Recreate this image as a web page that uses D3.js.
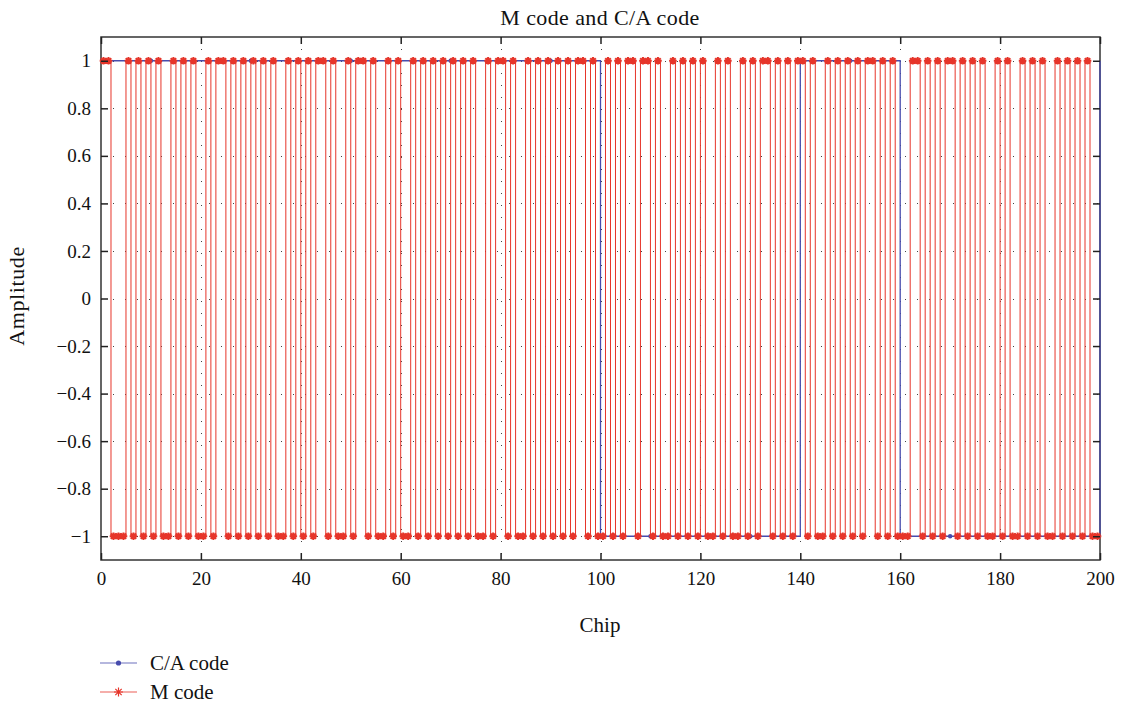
<!DOCTYPE html>
<html>
<head>
<meta charset="utf-8">
<script src="https://cdn.jsdelivr.net/npm/d3@7/dist/d3.min.js"></script>
<style>
  body { margin: 0; background: #fff; }
  text { font-family: "Liberation Serif", "DejaVu Serif", serif; fill: #111; }
</style>
</head>
<body>
<svg id="chart" width="1121" height="707"></svg>
<script>
// tick labels
var xTicks = [0, 20, 40, 60, 80, 100, 120, 140, 160, 180, 200];
var yTicks = [-1, -0.8, -0.6, -0.4, -0.2, 0, 0.2, 0.4, 0.6, 0.8, 1];

// C/A code: one value per 20 chips (last value is the level reached at 200)
var caChipLen = 20;
var caChips = [1, 1, 1, 1, 1, -1, -1, 1, -1, -1, 1];

// M code: starts at +1, flips sign at these chip indices
var mStart = 1;
var mFlips = [2, 5, 6, 7, 8, 9, 10, 11, 12, 14, 15, 16, 17, 18, 19, 21, 22, 23, 25, 26, 27, 28, 29, 30,
  31, 32, 33, 34, 35, 37, 38, 39, 40, 41, 42, 43, 45, 46, 47, 49, 50, 51, 53, 54, 55, 57, 58, 59, 60,
  62, 63, 64, 65, 66, 67, 68, 69, 70, 71, 72, 73, 74, 75, 77, 78, 79, 81, 82, 83, 85, 86, 87, 88, 89,
  90, 91, 92, 93, 94, 95, 97, 98, 99, 101, 102, 103, 104, 105, 107, 108, 110, 111, 112, 114, 115, 116,
  117, 118, 119, 120, 121, 123, 124, 125, 126, 128, 129, 130, 131, 132, 134, 135, 136, 137, 138, 139,
  141, 142, 143, 145, 146, 147, 148, 149, 150, 151, 152, 153, 155, 156, 157, 158, 159, 162,
  164, 165, 166, 167, 168, 169, 171, 172, 173, 174, 175, 176, 177, 179, 180, 181, 182, 184, 185, 186,
  187, 188, 189, 191, 192, 193, 194, 195, 196, 197, 198];
var nChips = 200;

var blue = "#474cad";
var red = "#e6352a";

var svg = d3.select("#chart");
var x = d3.scaleLinear().domain([0, 200]).range([101, 1100]);
var y = d3.scaleLinear().domain([-1.1, 1.1]).range([560, 37]);

// build the chip values
var mCode = [];
var level = mStart, f = 0;
for (var i = 0; i < nChips; i++) {
  if (f < mFlips.length && mFlips[f] === i) { level = -level; f++; }
  mCode.push(level);
}
var mPoints = mCode.map(function(v, i) { return [i, v]; });
mPoints.push([nChips, mCode[nChips - 1]]);
var caPoints = caChips.map(function(v, k) { return [k * caChipLen, v]; });

// grid
var grid = svg.append("g").attr("stroke", "#444").attr("stroke-width", 1).attr("stroke-dasharray", "1,11");
grid.selectAll(".gx").data(xTicks.slice(1, -1)).enter().append("line")
  .attr("x1", function(d) { return Math.round(x(d)) + 0.5; })
  .attr("x2", function(d) { return Math.round(x(d)) + 0.5; })
  .attr("y1", y(1.1)).attr("y2", y(-1.1));
grid.selectAll(".gy").data(yTicks).enter().append("line")
  .attr("y1", function(d) { return Math.round(y(d)) + 0.5; })
  .attr("y2", function(d) { return Math.round(y(d)) + 0.5; })
  .attr("x1", x(0)).attr("x2", x(200));

// frame first so the traces sit on top of it
svg.append("rect").attr("x", 101).attr("y", 37).attr("width", 999).attr("height", 523)
  .attr("fill", "none").attr("stroke", "#333").attr("stroke-width", 1.5);

// lines
var line = d3.line()
  .x(function(d) { return x(d[0]); })
  .y(function(d) { return y(d[1]); })
  .curve(d3.curveStepAfter);

svg.append("path").datum(caPoints).attr("d", line)
  .attr("fill", "none").attr("stroke", blue).attr("stroke-width", 1.3);
svg.selectAll(".cadot").data(caPoints.slice(0, -1)).enter().append("circle")
  .attr("cx", function(d) { return x(d[0] + caChipLen / 2); })
  .attr("cy", function(d) { return y(d[1]); })
  .attr("r", 2.2).attr("fill", blue);

svg.append("path").datum(mPoints).attr("d", line)
  .attr("fill", "none").attr("stroke", red).attr("stroke-width", 1);

function asterisk(s) {
  var d = s * 0.7071;
  return "M" + (-s) + ",0L" + s + ",0M0," + (-s) + "L0," + s +
    "M" + (-d) + "," + (-d) + "L" + d + "," + d + "M" + (-d) + "," + d + "L" + d + "," + (-d);
}
svg.append("g").selectAll("path").data(mCode).enter().append("path")
  .attr("transform", function(v, i) { return "translate(" + x(i + 0.5) + "," + y(v) + ")"; })
  .attr("d", asterisk(3.8))
  .attr("stroke", red).attr("stroke-width", 2).attr("fill", "none");

// axes
function fmt(d) { return d < 0 ? "\u2212" + Math.abs(d) : String(d); }
var ax = svg.append("g").attr("transform", "translate(0,560)")
  .call(d3.axisBottom(x).tickValues(xTicks).tickSize(-7).tickSizeOuter(0).tickPadding(12).tickFormat(fmt));
var axTop = svg.append("g").attr("transform", "translate(0,37)")
  .call(d3.axisTop(x).tickValues(xTicks).tickSize(-7).tickSizeOuter(0).tickFormat(""));
var ay = svg.append("g").attr("transform", "translate(101,0)")
  .call(d3.axisLeft(y).tickValues(yTicks).tickSize(-7).tickSizeOuter(0).tickPadding(10).tickFormat(fmt));
var ayR = svg.append("g").attr("transform", "translate(1100,0)")
  .call(d3.axisRight(y).tickValues(yTicks).tickSize(-7).tickSizeOuter(0).tickFormat(""));
[ax, axTop, ay, ayR].forEach(function(g) {
  g.select(".domain").remove();
  g.selectAll(".tick line").attr("stroke", "#222").attr("stroke-width", 1.5);
  g.selectAll("text").attr("font-size", 19).attr("font-family", null).attr("fill", "#111");
});

// titles
svg.append("text").attr("x", 600).attr("y", 25).attr("text-anchor", "middle")
  .attr("font-size", 22).attr("letter-spacing", 0.4).text("M code and C/A code");
svg.append("text").attr("x", 600).attr("y", 632).attr("text-anchor", "middle")
  .attr("font-size", 21).text("Chip");
svg.append("text").attr("transform", "translate(24,296) rotate(-90)").attr("text-anchor", "middle")
  .attr("font-size", 22).attr("letter-spacing", 0.6).text("Amplitude");

// legend
var legend = [
  { name: "C/A code", color: blue, mark: "dot" },
  { name: "M code", color: red, mark: "star" }
];
var lg = svg.append("g").selectAll("g").data(legend).enter().append("g")
  .attr("transform", function(d, i) { return "translate(100," + (663 + i * 29) + ")"; });
lg.append("line").attr("x1", 0).attr("x2", 37).attr("stroke", function(d) { return d.color; })
  .attr("stroke-width", 1.2).attr("stroke-opacity", 0.8);
lg.filter(function(d) { return d.mark === "dot"; }).append("circle")
  .attr("cx", 18.5).attr("r", 2.6).attr("fill", blue);
lg.filter(function(d) { return d.mark === "star"; }).append("path")
  .attr("transform", "translate(18.5,0)").attr("d", asterisk(4.5))
  .attr("stroke", red).attr("stroke-width", 1.2).attr("fill", "none");
lg.append("text").attr("x", 50).attr("y", 7).attr("font-size", 21)
  .text(function(d) { return d.name; });
</script>
</body>
</html>
